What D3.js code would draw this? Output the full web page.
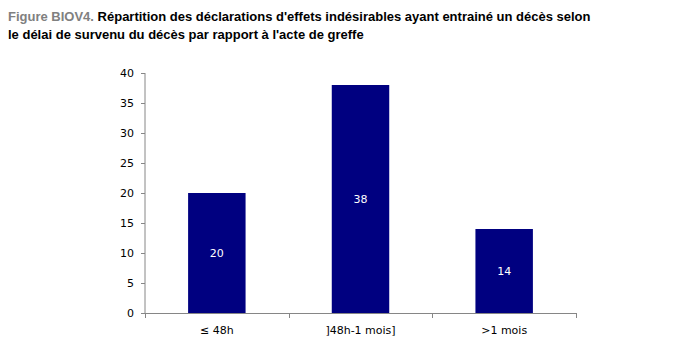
<!DOCTYPE html>
<html><head><meta charset="utf-8">
<script src="https://cdn.jsdelivr.net/npm/d3@7"></script>
<style>body{margin:0;background:#fff}</style>
</head><body>
<svg id="c" width="700" height="360"></svg>
<script>
const categories = ["\u2264 48h", "]48h-1 mois]", ">1 mois"];
const values = [20, 38, 14];
const yTicks = [0, 5, 10, 15, 20, 25, 30, 35, 40];

const svg = d3.select("#c");
const m = {left: 145, right: 576, top: 73, bottom: 313};

const t = svg.append("text").attr("font-family", "Liberation Sans, Arial, sans-serif")
  .attr("font-size", 13).attr("font-weight", "bold");
t.append("tspan").attr("x", 8).attr("y", 21).attr("fill", "#808080").text("Figure BIOV4. ");
t.append("tspan").attr("fill", "#000").text("Répartition des déclarations d'effets indésirables ayant entrainé un décès selon");
svg.append("text").attr("font-family", "Liberation Sans, Arial, sans-serif")
  .attr("font-size", 13).attr("font-weight", "bold").attr("x", 8).attr("y", 39)
  .text("le délai de survenu du décès par rapport à l'acte de greffe");

const x = d3.scaleBand().domain(categories).range([m.left, m.right]).paddingInner(0.6).paddingOuter(0.3);
const y = d3.scaleLinear().domain([0, 40]).range([m.bottom, m.top]);

svg.selectAll("rect.bar").data(values).join("rect").attr("class", "bar")
  .attr("x", (d, i) => x(categories[i])).attr("width", x.bandwidth())
  .attr("y", d => y(d)).attr("height", d => y(0) - y(d)).attr("fill", "#000080");

svg.selectAll("text.val").data(values).join("text").attr("class", "val")
  .attr("x", (d, i) => x(categories[i]) + x.bandwidth() / 2)
  .attr("y", d => (y(d) + y(0)) / 2 + 4)
  .attr("text-anchor", "middle").attr("fill", "#fff")
  .attr("font-family", "DejaVu Sans, Verdana, sans-serif").attr("font-size", 11).text(d => d);

const yAxis = svg.append("g").attr("transform", `translate(${m.left},0)`)
  .call(d3.axisLeft(y).tickValues(yTicks).tickSize(4).tickPadding(7));
yAxis.selectAll("path,line").attr("stroke", "#868686");
yAxis.select("path").attr("d", `M-0.5,${m.top}V${m.bottom}`).attr("transform", "translate(0.5,0)");
yAxis.selectAll("text").attr("font-family", "DejaVu Sans, Verdana, sans-serif").attr("font-size", 11).attr("fill", "#000");

const xg = svg.append("g");
xg.append("line").attr("x1", m.left).attr("x2", m.right).attr("y1", m.bottom + 0.5).attr("y2", m.bottom + 0.5).attr("stroke", "#868686");
const bounds = categories.map(c => x(c) - x.step() * x.paddingInner() / 2);
bounds.push(m.right);
xg.selectAll("line.tk").data(bounds).join("line").attr("class", "tk")
  .attr("x1", d => Math.round(d) + 0.5).attr("x2", d => Math.round(d) + 0.5)
  .attr("y1", m.bottom).attr("y2", m.bottom + 5).attr("stroke", "#868686");
xg.selectAll("text").data(categories).join("text")
  .attr("x", c => x(c) + x.bandwidth() / 2).attr("y", 334).attr("text-anchor", "middle")
  .attr("font-family", "DejaVu Sans, Verdana, sans-serif").attr("font-size", 11).text(c => c);
</script>
</body></html>
